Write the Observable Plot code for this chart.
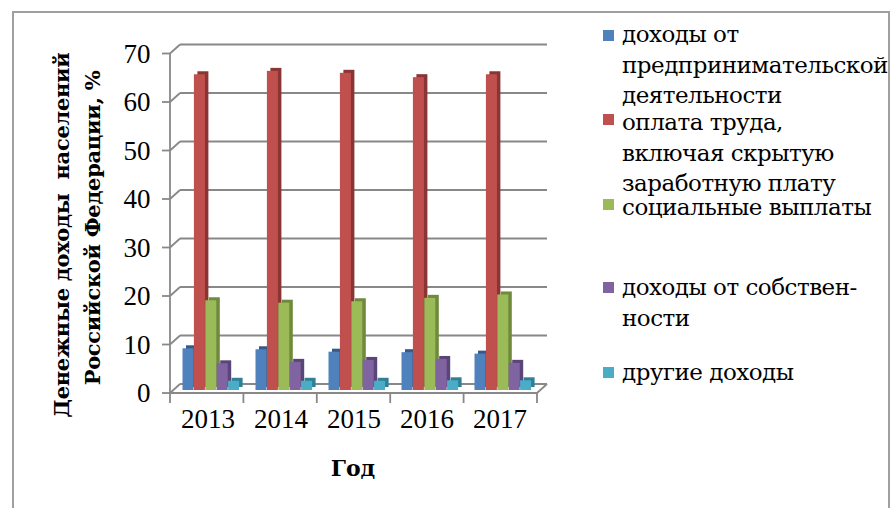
<!DOCTYPE html>
<html><head><meta charset="utf-8">
<script src="https://cdn.jsdelivr.net/npm/d3@7"></script>
<script src="https://cdn.jsdelivr.net/npm/@observablehq/plot@0.6"></script>
<style>
body{margin:0;background:#fff;}
#wrap{position:relative;width:891px;height:508px;overflow:hidden;font-family:"DejaVu Serif","Liberation Serif",serif;color:#000;}
#frame{position:absolute;left:12px;top:11px;width:878px;height:540px;border:2px solid #a0a0a0;box-sizing:border-box;}
#chart{position:absolute;left:0;top:0;}
.ytitle{position:absolute;width:440px;text-align:center;font-weight:bold;font-size:21px;white-space:pre;transform:translate(-50%,-50%) rotate(-90deg);line-height:1;letter-spacing:-0.3px;}
#xtitle{position:absolute;left:353px;top:468px;transform:translate(-50%,-50%);font-weight:bold;font-size:22px;line-height:1;}
.lg{position:absolute;left:622px;font-size:23px;line-height:30.5px;white-space:nowrap;letter-spacing:-0.5px;}
.sw{position:absolute;left:603px;width:11px;height:11px;}
</style></head>
<body><div id="wrap"><div id="frame"></div><div id="chart"></div>
<div class="ytitle" id="yt1"></div><div class="ytitle" id="yt2"></div>
<div id="xtitle"></div><div id="legend"></div></div>
<script>
const years = ["2013","2014","2015","2016","2017"];
const yTicks = [0,10,20,30,40,50,60,70];
const seriesNames = [
  "доходы от предпринимательской деятельности",
  "оплата труда, включая скрытую заработную плату",
  "социальные выплаты",
  "доходы от собственности",
  "другие доходы"
];
const legendLines = [
  ["доходы от","предпринимательской","деятельности"],
  ["оплата труда,","включая скрытую","заработную плату"],
  ["социальные выплаты"],
  ["доходы от собствен-","ности"],
  ["другие доходы"]
];
const business = [8.6, 8.4, 7.9, 7.8, 7.5];
const wages    = [65.1, 65.8, 65.4, 64.5, 65.1];
const social   = [18.5, 18.0, 18.3, 19.0, 19.7];
const property = [5.5, 5.8, 6.2, 6.4, 5.6];
const other    = [1.9, 1.9, 1.9, 2.0, 2.0];
const seriesValues = [business, wages, social, property, other];
const colors = ["#4f81bd","#c0504d","#9bbb59","#8064a2","#4bacc6"];
const sideColors = ["#36598a","#8a3533","#6f8a3c","#5a4578","#2f8097"];
const yTitle = ["Денежные доходы  населений","Российской Федерации, %"];
const xTitle = "Год";

const W = 891, H = 508, ML = 170, MR = 354, MT = 53.5, MB = 115;
const bw = (W - ML - MR) / years.length;
const barStart = 11.5, barW = 11.4;
const DX = 10, DY = -9;

function frame3d(index, scales, values, dims) {
  const y = scales.y;
  const left = dims.marginLeft, right = dims.width - dims.marginRight;
  const g = d3.create("svg:g").attr("stroke","#888").attr("stroke-width",1.8).attr("fill","none");
  for (const t of yTicks) {
    const yy = y(t);
    g.append("line").attr("x1",left-8).attr("x2",left).attr("y1",yy).attr("y2",yy);
    g.append("line").attr("x1",left).attr("x2",left+DX).attr("y1",yy).attr("y2",yy+DY);
    g.append("line").attr("x1",left+DX).attr("x2",right+DX).attr("y1",yy+DY).attr("y2",yy+DY);
  }
  const y0 = y(0);
  g.append("line").attr("x1",left).attr("x2",left).attr("y1",y(70)).attr("y2",y0+1);
  g.append("line").attr("x1",left).attr("x2",right).attr("y1",y0).attr("y2",y0);
  g.append("line").attr("x1",right).attr("x2",right+DX).attr("y1",y0).attr("y2",y0+DY);
  const step = (right-left)/years.length;
  for (let k=0;k<=years.length;k++){
    const xx = left + k*step;
    g.append("line").attr("x1",xx).attr("x2",xx).attr("y1",y0).attr("y2",y0+10);
  }
  return g.node();
}

const barMarks = [];
seriesValues.forEach((vals, i) => {
  const data = years.map((yr, j) => ({year: yr, value: vals[j]}));
  const il = barStart + barW*i, ir = bw - (barStart + barW*(i+1));
  barMarks.push(Plot.barY(data, {x:"year", y:"value", fill: sideColors[i], insetLeft: il, insetRight: ir, dx: 3.5, dy: -6}));
  barMarks.push(Plot.barY(data, {x:"year", y:"value", fill: colors[i], insetLeft: il, insetRight: ir, dy: -3}));
});

const chart = Plot.plot({
  width: W, height: H,
  marginLeft: ML, marginRight: MR, marginTop: MT, marginBottom: MB,
  style: {fontFamily: "Liberation Serif, DejaVu Serif, serif", background: "transparent", color: "#000"},
  x: {domain: years, padding: 0, axis: null},
  y: {domain: [0,70], axis: null},
  marks: [
    frame3d,
    ...barMarks,
    Plot.text(yTicks, {y: d => d, text: d => String(d), frameAnchor: "left", dx: -20, textAnchor: "end", fontSize: 27, fill: "#000"}),
    Plot.text(years, {x: d => d, text: d => d, frameAnchor: "bottom", dy: 34, fontSize: 27, fill: "#000"})
  ]
});
document.getElementById("chart").appendChild(chart);

const yt1 = document.getElementById("yt1");
yt1.textContent = yTitle[0]; yt1.style.left = "61px"; yt1.style.top = "235px";
const yt2 = document.getElementById("yt2");
yt2.textContent = yTitle[1]; yt2.style.left = "92px"; yt2.style.top = "228px";
document.getElementById("xtitle").textContent = xTitle;

const legend = document.getElementById("legend");
const lineTops = [37, 125, 210, 290, 375];
const swTops = [30, 113.5, 198.5, 281.5, 366.5];
legendLines.forEach((lines, i) => {
  const sw = document.createElement("div");
  sw.className = "sw"; sw.style.top = swTops[i] + "px"; sw.style.background = colors[i];
  legend.appendChild(sw);
  const t = document.createElement("div");
  t.className = "lg"; t.style.top = (lineTops[i] - 18) + "px";
  t.innerHTML = lines.join("<br>");
  t.title = seriesNames[i];
  legend.appendChild(t);
});
</script></body></html>
